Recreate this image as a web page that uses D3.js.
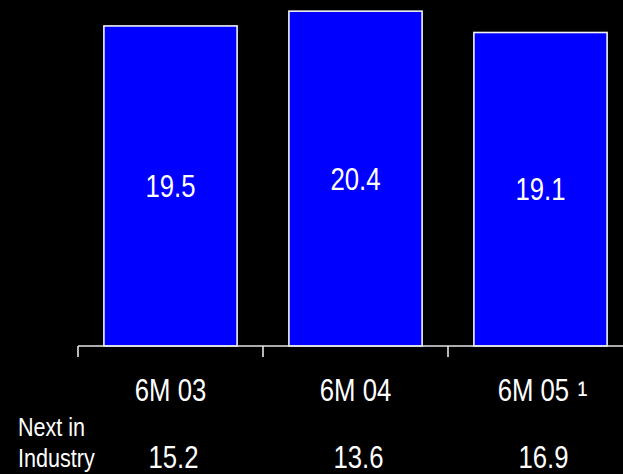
<!DOCTYPE html>
<html>
<head>
<meta charset="utf-8">
<script src="https://cdn.jsdelivr.net/npm/d3@7"></script>
<style>
  html, body { margin: 0; padding: 0; background: #000; }
  svg { display: block; }
  text { font-family: "Liberation Sans", Arial, sans-serif; fill: #fff; }
</style>
</head>
<body>
<script>
const categories = ["6M 03", "6M 04", "6M 05"];
const footnotes = ["", "", "\u00B9"];
const values = [19.5, 20.4, 19.1];
const nextInIndustry = [15.2, 13.6, 16.9];
const rowLabel = ["Next in", "Industry"];

const W = 623, H = 474;
const SX = 0.83; // condensed look (Arial Narrow-like)
const svg = d3.select("body").append("svg").attr("width", W).attr("height", H);
svg.append("rect").attr("width", W).attr("height", H).attr("fill", "#000");

const x = d3.scaleBand().domain(categories).range([78, 633]).paddingInner(0.28).paddingOuter(0.14);
const y = d3.scaleLinear().domain([0, 21.08]).range([346, 0]);
const tr = (px, py) => `translate(${px},${py}) scale(${SX},1)`;

// bars
svg.selectAll("rect.bar").data(values).join("rect")
  .attr("class", "bar")
  .attr("x", (d, i) => x(categories[i]))
  .attr("y", d => y(d))
  .attr("width", x.bandwidth())
  .attr("height", d => y(0) - y(d))
  .attr("fill", "#0000ff")
  .attr("stroke", "#f2f2f2")
  .attr("stroke-width", 1.6);

// value labels
svg.selectAll("text.val").data(values).join("text")
  .attr("class", "val")
  .attr("transform", (d, i) => tr(x(categories[i]) + x.bandwidth() / 2, (y(d) + y(0)) / 2 + 11))
  .attr("text-anchor", "middle")
  .attr("font-size", 31)
  .text(d => d.toFixed(1));

// axis
const axisG = svg.append("g").attr("transform", `translate(0,${y(0)})`);
const edges = [78, 78 + x.step(), 78 + 2 * x.step(), 78 + 3 * x.step()];
axisG.append("line").attr("x1", 78).attr("x2", W).attr("y1", 0).attr("y2", 0)
  .attr("stroke", "#e6e6e6").attr("stroke-width", 1.6);
axisG.selectAll("line.tick").data(edges).join("line")
  .attr("class", "tick")
  .attr("x1", d => d).attr("x2", d => d).attr("y1", 0).attr("y2", 11)
  .attr("stroke", "#e6e6e6").attr("stroke-width", 1.6);

// category labels
const cat = svg.selectAll("text.cat").data(categories).join("text")
  .attr("class", "cat")
  .attr("transform", (d, i) => tr(x(d) + x.bandwidth() / 2 + (footnotes[i] ? 2 : 0), 401))
  .attr("text-anchor", "middle")
  .attr("font-size", 31);
cat.append("tspan").text(d => d);
cat.filter((d, i) => footnotes[i]).append("tspan").attr("font-size", 36).attr("dy", 5)
  .text(d => " " + footnotes[categories.indexOf(d)]);

// next in industry row
svg.append("text").attr("transform", tr(18, 436)).attr("font-size", 26).text(rowLabel[0]);
svg.append("text").attr("transform", tr(18, 467)).attr("font-size", 26).text(rowLabel[1]);
svg.selectAll("text.nii").data(nextInIndustry).join("text")
  .attr("class", "nii")
  .attr("transform", (d, i) => tr(x(categories[i]) + x.bandwidth() / 2 + 3, 468))
  .attr("text-anchor", "middle")
  .attr("font-size", 31)
  .text(d => d.toFixed(1));
</script>
</body>
</html>
